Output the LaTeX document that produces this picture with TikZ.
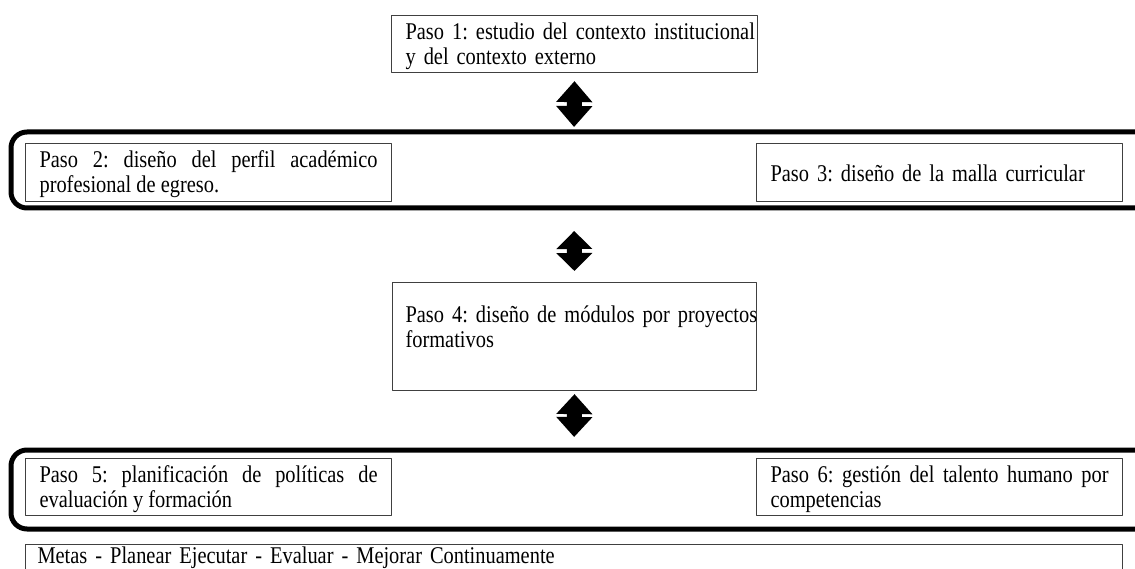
\documentclass[tikz,border=0pt]{standalone}
\usepackage{fontspec}
\setmainfont{Liberation Serif}[FakeStretch=0.85]
\usetikzlibrary{arrows.meta}
\frenchspacing
\hyphenpenalty=10000
\exhyphenpenalty=10000
\begin{document}
\begin{tikzpicture}[x=1pt,y=-1pt,line join=round,
	paso/.style={draw=black!75,line width=1.1pt,anchor=north west,inner ysep=0pt,inner xsep=14pt,text width=338pt,align=justify,font=\fontsize{24}{24.5}\selectfont\sloppy},
	marco/.style={line width=5pt,rounded corners=16pt},
	flecha/.style={line width=15pt,{Triangle[width=35pt,length=#1]}-{Triangle[width=35pt,length=#1]}}]
	\useasboundingbox (0,0) rectangle (1135,569);
	\node[paso,align=left,text height=24pt,text depth=33pt] (paso1) at (391,15) {\mbox{Paso 1: estudio del contexto institucional}\\y del contexto externo};
	% bloque pasos 2 y 3
	\draw[marco] (1140,132) -| (11,208) -- (1140,208);
	\coordinate (mA1) at (574,132);
	\coordinate (mA2) at (574,208);
	\node[paso,text height=24pt,text depth=34pt] (paso2) at (25,143) {Paso 2: diseño del perfil académico profesional de egreso.};
	\node[paso,align=left,text height=38pt,text depth=20pt] (paso3) at (756,143) {Paso 3: diseño de la malla curricular};
	\node[paso,align=left,inner xsep=13pt,text height=40pt,text depth=68pt] (paso4) at (392,282) {\mbox{Paso 4: diseño de módulos por proyectos}\\formativos};
	% bloque pasos 5 y 6
	\draw[marco] (1140,450) -| (11,529) -- (1140,529);
	\coordinate (mB1) at (574,450);
	\node[paso,text height=24pt,text depth=33pt] (paso5) at (25,458) {Paso 5: planificación de políticas de evaluación y formación};
	\node[paso,text height=24pt,text depth=33pt] (paso6) at (756,458) {Paso 6: gestión del talento humano por competencias};
	\node[paso,align=left,inner xsep=12pt,text width=1073pt,text height=19pt,text depth=50pt] (metas) at (25,544) {Metas - Planear Ejecutar - Evaluar - Mejorar Continuamente};
	\draw[flecha=21pt,shorten <=8pt,shorten >=5pt] (paso1.south) -- (mA1);
	\draw[flecha=18pt,shorten <=23pt,shorten >=11pt] (mA2) -- (paso4.north);
	\draw[flecha=20pt,shorten <=3pt,shorten >=13pt] (paso4.south) -- (mB1);
\end{tikzpicture}
\end{document}
